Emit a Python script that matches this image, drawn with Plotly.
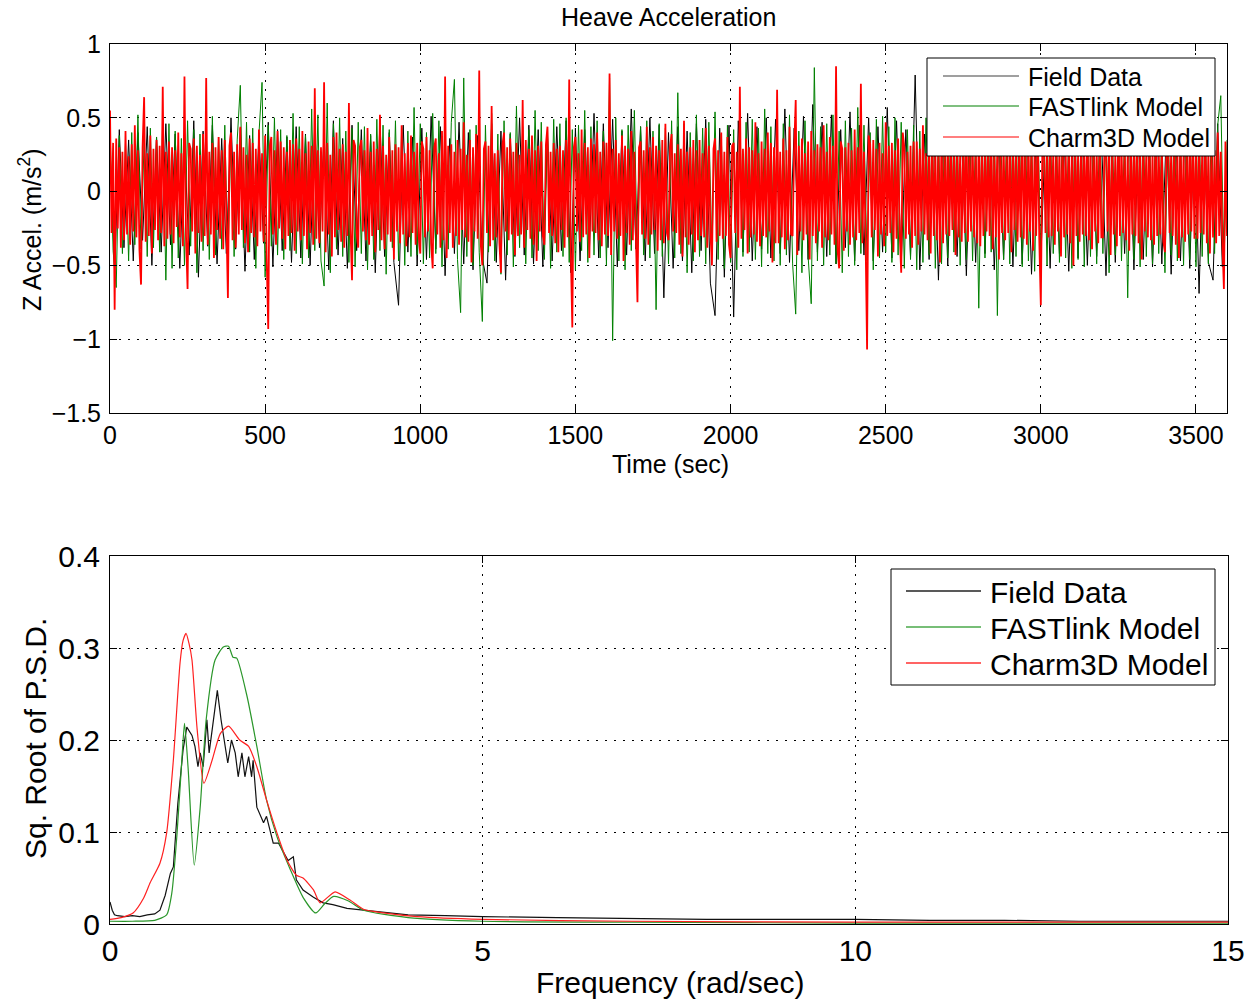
import plotly.graph_objects as go

# ---------------- Top panel: heave acceleration time series ----------------
red_dt = 5     # s between Charm3D samples
green_dt = 10  # s between FASTlink samples
black_dt = 15  # s between field samples

charm3d_accel = [
    0.55, -0.28, 0.33, -0.80, 0.36, -0.25, 0.30, -0.38, 0.27, -0.33, 0.41, -0.29, 0.24, -0.36, 0.32, -0.27, 0.45, -0.31, 0.28, -0.40,
    -0.63, 0.30, 0.64, -0.34, 0.26, -0.30, 0.38, -0.42, 0.29, -0.26, 0.35, -0.33, 0.31, -0.28, 0.71, -0.37, 0.27, -0.32, 0.34, -0.29,
    0.30, -0.35, 0.28, -0.24, 0.40, -0.31, 0.26, -0.37, 0.78, -0.30, -0.66, 0.33, 0.29, -0.27, 0.36, -0.42, 0.31, -0.28, 0.25, -0.34,
    0.39, -0.30, 0.77, -0.36, 0.27, -0.29, 0.33, -0.45, 0.30, -0.26, 0.37, -0.32, 0.28, -0.39, 0.35, -0.27, -0.72, 0.31, 0.40, -0.33,
    0.27, -0.38, 0.32, -0.29, 0.44, -0.26, 0.30, -0.35, 0.25, -0.41, 0.36, -0.28, 0.33, -0.31, 0.29, -0.37, 0.42, -0.27, 0.26, -0.34,
    0.38, -0.45, -0.93, 0.31, 0.37, -0.29, 0.28, -0.36, 0.41, -0.25, 0.34, -0.32, 0.30, -0.39, 0.27, -0.30, 0.35, -0.28, 0.32, -0.40,
    0.36, -0.27, 0.29, -0.33, 0.41, -0.30, 0.26, -0.39, 0.34, -0.28, 0.31, -0.36, 0.70, -0.32, 0.28, -0.35, 0.30, -0.27, 0.74, -0.41,
    0.33, -0.29, 0.25, -0.44, 0.37, -0.31, 0.40, -0.26, 0.29, -0.34, 0.32, -0.38, 0.27, -0.30, 0.60, -0.25, -0.60, 0.35, 0.31, -0.28,
    -0.38, 0.30, 0.35, -0.27, 0.28, -0.33, 0.43, -0.36, 0.27, -0.30, 0.34, -0.41, 0.29, -0.26, 0.52, -0.33, 0.31, -0.39, 0.25, -0.29,
    0.37, -0.34, 0.28, -0.46, 0.32, -0.27, 0.30, -0.35, 0.45, -0.29, 0.26, -0.37, 0.33, -0.31, 0.38, -0.28, 0.27, -0.36, 0.33, -0.30,
    -0.42, 0.34, 0.29, -0.31, 0.37, -0.27, 0.28, -0.35, -0.52, 0.30, 0.36, -0.29, 0.26, -0.38, 0.41, -0.33, 0.78, -0.45, 0.31, -0.28,
    0.32, -0.38, 0.27, -0.30, 0.35, -0.36, 0.29, -0.26, 0.47, -0.31, 0.25, -0.34, 0.35, -0.48, 0.30, -0.27, 0.39, -0.32, 0.82, -0.36,
    -0.50, 0.29, 0.34, -0.28, 0.31, -0.37, 0.58, -0.33, 0.26, -0.31, 0.28, -0.35, -0.55, 0.32, 0.40, -0.27, 0.30, -0.33, 0.36, -0.29,
    0.27, -0.43, 0.33, -0.30, 0.25, -0.29, 0.62, -0.38, 0.35, -0.26, 0.29, -0.32, 0.38, -0.36, 0.28, -0.47, 0.31, -0.27, 0.34, -0.30,
    -0.36, 0.32, 0.44, -0.28, 0.27, -0.30, 0.33, -0.35, 0.29, -0.41, 0.31, -0.26, 0.28, -0.38, 0.35, -0.31, 0.76, -0.40, -0.92, 0.30,
    0.37, -0.27, 0.26, -0.34, 0.42, -0.31, 0.33, -0.29, 0.30, -0.45, 0.36, -0.27, 0.32, -0.28, 0.40, -0.33, 0.27, -0.37, 0.34, -0.29,
    0.33, -0.30, 0.80, -0.43, 0.29, -0.27, 0.35, -0.32, 0.26, -0.30, 0.38, -0.47, 0.31, -0.28, 0.29, -0.36, 0.41, -0.33, 0.27, -0.31,
    -0.75, 0.30, 0.34, -0.29, 0.28, -0.32, 0.44, -0.36, 0.30, -0.29, 0.37, -0.26, 0.31, -0.40, 0.28, -0.33, 0.35, -0.35, 0.46, -0.28,
    -0.33, 0.30, 0.39, -0.27, 0.26, -0.28, 0.32, -0.36, 0.29, -0.44, 0.48, -0.31, 0.27, -0.36, 0.30, -0.29, 0.35, -0.41, 0.28, -0.33,
    0.35, -0.30, 0.26, -0.31, 0.43, -0.38, 0.31, -0.27, -0.50, 0.29, 0.36, -0.34, 0.28, -0.30, 0.40, -0.32, 0.27, -0.30, 0.37, -0.36,
    -0.45, 0.31, 0.33, -0.28, 0.27, -0.38, 0.71, -0.32, 0.29, -0.26, 0.36, -0.42, 0.30, -0.31, 0.28, -0.29, 0.47, -0.34, 0.26, -0.37,
    0.34, -0.30, 0.29, -0.31, 0.40, -0.27, 0.33, -0.48, 0.30, -0.35, 0.69, -0.35, 0.27, -0.31, 0.36, -0.39, 0.28, -0.33, 0.44, -0.29,
    -0.30, 0.28, 0.62, -0.43, 0.31, -0.27, 0.36, -0.33, 0.26, -0.29, 0.34, -0.46, 0.41, -0.30, 0.28, -0.35, 0.32, -0.27, 0.30, -0.38,
    0.45, -0.31, 0.27, -0.33, 0.37, -0.29, 0.31, -0.36, 0.85, -0.40, -0.52, 0.34, 0.29, -0.40, 0.30, -0.27, 0.33, -0.36, 0.28, -0.31,
    0.42, -0.33, 0.30, -0.28, 0.73, -0.35, 0.27, -0.30, -1.07, 0.38, 0.32, -0.31, 0.35, -0.26, 0.29, -0.44, 0.33, -0.29, 0.26, -0.37,
    0.47, -0.30, 0.31, -0.28, 0.33, -0.41, 0.28, -0.32, 0.36, -0.27, -0.55, 0.40, 0.30, -0.32, 0.27, -0.29, 0.31, -0.38, 0.34, -0.30,
    0.34, -0.36, 0.29, -0.27, 0.45, -0.29, 0.26, -0.33, 0.32, -0.42, 0.38, -0.30, 0.28, -0.33, 0.30, -0.48, 0.41, -0.35, 0.27, -0.29,
    0.37, -0.30, 0.31, -0.26, 0.29, -0.43, 0.35, -0.31, 0.27, -0.34, 0.33, -0.28, 0.50, -0.34, 0.30, -0.27, 0.36, -0.31, 0.28, -0.35,
    0.40, -0.37, 0.28, -0.30, 0.33, -0.27, 0.31, -0.30, 0.44, -0.39, 0.26, -0.31, 0.35, -0.46, 0.29, -0.28, 0.35, -0.33, 0.27, -0.28,
    0.38, -0.41, 0.30, -0.26, 0.32, -0.34, 0.28, -0.31, 0.47, -0.32, 0.29, -0.36, 0.36, -0.27, 0.31, -0.40, 0.29, -0.30, 0.45, -0.33,
    -0.77, 0.32, 0.35, -0.28, 0.26, -0.31, 0.42, -0.30, 0.29, -0.36, 0.33, -0.27, 0.30, -0.44, 0.38, -0.31, 0.27, -0.29, 0.33, -0.35,
    0.28, -0.50, 0.41, -0.30, 0.26, -0.34, 0.37, -0.29, 0.31, -0.30, 0.46, -0.33, 0.28, -0.39, 0.32, -0.27, 0.30, -0.35, 0.40, -0.31,
    -0.31, 0.29, 0.36, -0.27, 0.31, -0.43, 0.30, -0.29, 0.26, -0.37, 0.48, -0.30, 0.33, -0.28, 0.29, -0.33, 0.27, -0.40, 0.35, -0.29,
    0.31, -0.30, 0.42, -0.35, 0.28, -0.46, 0.34, -0.27, 0.30, -0.31, 0.38, -0.33, 0.27, -0.36, 0.44, -0.30, 0.29, -0.29, 0.32, -0.34,
    -0.41, 0.30, 0.37, -0.28, 0.27, -0.30, 0.33, -0.36, 0.29, -0.45, 0.39, -0.31, 0.26, -0.34, 0.31, -0.29, 0.38, -0.27, 0.43, -0.32,
    0.30, -0.32, 0.36, -0.28, 0.27, -0.29, 0.47, -0.35, 0.29, -0.42, 0.30, -0.31, 0.28, -0.35, 0.40, -0.30, 0.27, -0.33, -0.66, 0.34,
    -0.30,
]

fastlink_accel = [
    0.45, -0.40, -0.65, 0.38, -0.42, 0.33, -0.47, 0.40, -0.36, 0.52, -0.39, 0.35, -0.44, 0.43, -0.38, 0.37, -0.41, 0.50, -0.60, 0.46,
    -0.52, 0.41, -0.45, 0.36, -0.50, 0.48, -0.37, 0.42, -0.55, 0.39, -0.40, 0.44, -0.46, 0.51, -0.43, 0.37, -0.39, 0.45, -0.48, 0.40,
    -0.44, 0.35, 0.72, -0.38, 0.47, -0.41, 0.43, -0.52, 0.39, 0.74, -0.58, 0.45, -0.37, 0.50, -0.43, 0.42, -0.46, 0.38, -0.40, 0.53,
    -0.42, 0.44, -0.49, 0.38, -0.45, 0.56, -0.40, 0.52, -0.47, -0.64, 0.60, -0.55, 0.46, -0.39, 0.50, -0.44, 0.41, -0.48, 0.43, -0.51,
    0.47, -0.42, 0.44, -0.53, 0.39, -0.46, 0.49, -0.40, 0.45, -0.56, 0.42, -0.38, 0.48, -0.47, 0.43, -0.50, 0.41, -0.44, 0.57, -0.43,
    0.46, -0.49, 0.40, -0.45, 0.53, -0.42, 0.48, -0.51, 0.44, -0.39, 0.47, 0.76, -0.46, -0.82, 0.77, -0.44, 0.42, -0.50, 0.45, -0.41,
    -0.88, 0.45, -0.41, 0.53, -0.47, 0.39, -0.56, 0.48, -0.43, 0.40, -0.51, 0.58, -0.38, 0.44, -0.49, 0.42, -0.45, 0.55, -0.40, 0.47,
    -0.46, 0.43, -0.52, 0.49, -0.41, 0.46, -0.44, 0.50, -0.48, 0.42, -0.53, 0.45, -0.40, 0.55, -0.48, 0.44, -0.43, 0.48, -0.45, 0.41,
    -0.50, 0.77, -1.01, 0.50, -0.47, 0.42, -0.53, 0.45, -0.40, 0.55, -0.48, 0.44, -0.43, 0.48, -0.45, 0.41, -0.80, 0.46, -0.44, 0.43,
    -0.49, 0.48, -0.45, 0.67, -0.42, 0.46, -0.55, 0.40, -0.47, 0.52, -0.44, 0.43, -0.49, 0.47, -0.41, 0.54, -0.46, 0.39, -0.52, 0.45,
    -0.48, 0.42, -0.53, 0.50, -0.44, 0.47, -0.41, 0.49, -0.46, 0.43, -0.51, 0.56, -0.42, 0.44, -0.47, 0.41, -0.50, 0.46, -0.43, 0.52,
    -0.49, -0.83, 0.41, -0.55, 0.48, -0.44, -0.76, 0.84, -0.47, 0.44, -0.50, 0.46, -0.43, 0.52, -0.49, 0.41, -0.55, 0.48, -0.44, 0.43,
    -0.50, 0.57, -0.42, 0.45, -0.47, 0.40, -0.53, 0.49, -0.45, 0.51, -0.41, 0.44, -0.48, 0.50, -0.43, 0.47, -0.52, 0.42, -0.46, 0.45,
    -0.53, 0.41, -0.48, 0.50, -0.43, 0.47, -0.52, 0.42, -0.49, 0.46, -0.45, 0.53, -0.41, 0.48, -0.50, 0.44, -0.46, 0.51, -0.47, 0.43,
    -0.79, 0.46, -0.45, 0.53, -0.41, 0.48, -0.84, 0.51, -0.46, 0.43, -0.49, 0.47, -0.44, 0.52, -0.51, 0.45, -0.47, 0.41, -0.54, 0.49,
    -0.43, 0.46, -0.50, 0.55, -0.42, 0.44, -0.48, 0.50, -0.45, 0.42, -0.52, 0.48, -0.46, 0.43, -0.51, 0.50, -0.44, 0.47, -0.49, 0.53,
    -0.42, 0.45, -0.55, 0.46, -0.43, 0.51, -0.47, 0.44, -0.72, 0.48, -0.46, 0.43, -0.51, 0.50, -0.44, 0.47, -0.49, 0.53, -0.42, 0.45,
    -0.55, 0.46, -0.43, 0.51, -0.47, 0.44, -0.50, 0.48, -0.46, 0.43, -0.51, 0.50, -0.44, 0.47, -0.49, 0.53, -0.42, 0.45, 0.65, -0.52,
    0.35,
]

field_accel = [
    0.30, -0.55, 0.42, -0.38, 0.35, -0.47, 0.40, -0.33, 0.44, -0.50, 0.37, -0.41, 0.46, -0.36, 0.39, -0.52, 0.34, -0.43, 0.48, -0.58,
    0.41, -0.37, 0.45, -0.49, 0.36, -0.42, 0.50, -0.39, 0.43, -0.54, 0.38, -0.46, 0.40, -0.35, 0.47, -0.51, 0.42, -0.40, 0.37, -0.48,
    0.44, -0.45, 0.39, -0.50, 0.46, -0.38, 0.41, -0.53, 0.48, -0.43, 0.36, -0.52, 0.45, -0.40, 0.42, -0.47, 0.38, -0.55, 0.49, -0.44,
    0.40, -0.48, -0.77, 0.45, -0.41, 0.37, -0.50, 0.43, -0.46, 0.51, -0.39, 0.44, -0.57, 0.36, -0.42, 0.47, -0.49, 0.40, -0.53, 0.38,
    -0.45, -0.62, 0.46, -0.48, 0.41, -0.60, 0.39, -0.44, 0.50, -0.43, 0.45, -0.49, 0.42, -0.51, 0.38, -0.47, 0.44, -0.40, 0.48, -0.55,
    0.43, -0.47, 0.42, -0.40, 0.53, -0.45, 0.46, -0.38, 0.49, -0.51, 0.41, -0.43, 0.56, -0.39, 0.44, -0.47, 0.50, -0.42, 0.45, -0.72,
    0.40, -0.52, 0.44, -0.47, 0.41, -0.55, 0.46, -0.40, 0.49, -0.62, -0.84, 0.43, -0.58, 0.45, -0.85, 0.48, -0.41, 0.53, -0.47, 0.44,
    -0.39, 0.50, -0.45, 0.49, -0.42, 0.56, -0.48, 0.43, -0.40, 0.51, -0.46, 0.59, -0.41, 0.47, -0.44, 0.52, -0.49, 0.42, -0.38, 0.54,
    -0.47, 0.45, -0.43, 0.50, -0.47, 0.44, -0.41, 0.57, -0.45, 0.48, -0.50, 0.42, -0.44, 0.79, -0.53, 0.39, -0.46, 0.48, -0.60, 0.43,
    -0.50, 0.47, -0.44, 0.41, -0.57, 0.45, -0.48, 0.50, -0.42, 0.44, -0.53, 0.39, -0.46, 0.48, -0.51, 0.42, -0.49, 0.46, -0.56, 0.40,
    -0.47, 0.44, -0.52, 0.49, -0.42, 0.38, -0.54, 0.47, -0.45, 0.43, -0.50, 0.47, -0.44, 0.41, -0.57, 0.45, -0.48, 0.50, -0.42, 0.44,
    -0.53, 0.39, -0.46, 0.48, -0.51, 0.42, -0.49, 0.46, -0.56, 0.40, -0.47, 0.44, -0.52, 0.49, -0.69, 0.45, -0.48, -0.60, 0.46, -0.51,
    0.20,
]

time_ticks = [0, 500, 1000, 1500, 2000, 2500, 3000, 3500]
accel_ticks = [-1.5, -1, -0.5, 0, 0.5, 1]

# ---------------- Bottom panel: sqrt of PSD ----------------
field_freq = [0, 0.03, 0.06, 0.1, 0.2, 0.3, 0.4, 0.5, 0.6, 0.67, 0.74, 0.81, 0.85, 0.91, 0.98, 1.03, 1.10, 1.14,
              1.18, 1.21, 1.25, 1.30, 1.33, 1.38, 1.44, 1.49, 1.54, 1.58, 1.63, 1.68, 1.72, 1.77, 1.81, 1.86, 1.90,
              1.92, 1.97, 2.01, 2.06, 2.10, 2.15, 2.19, 2.26, 2.33, 2.39, 2.46, 2.50, 2.59, 2.73, 2.86, 2.99, 3.18,
              3.4, 3.7, 4.0, 4.5, 5.0, 6.0, 7.0, 8.0, 9.0, 10.0, 11.0, 12.0, 13.0, 14.0, 15.0]
field_psd = [0.024, 0.015, 0.010, 0.009, 0.008, 0.009, 0.008, 0.010, 0.011, 0.015, 0.031, 0.055, 0.062, 0.131, 0.189,
             0.214, 0.205, 0.193, 0.171, 0.186, 0.171, 0.222, 0.186, 0.218, 0.254, 0.222, 0.193, 0.175, 0.200, 0.186,
             0.160, 0.186, 0.160, 0.182, 0.160, 0.178, 0.127, 0.120, 0.110, 0.117, 0.102, 0.088, 0.088, 0.077, 0.069,
             0.073, 0.048, 0.037, 0.029, 0.023, 0.021, 0.017, 0.015, 0.012, 0.010, 0.009, 0.008, 0.007, 0.006, 0.005,
             0.005, 0.005, 0.004, 0.004, 0.003, 0.003, 0.003]

fastlink_freq = [0, 0.3, 0.6, 0.76, 0.83, 0.90, 0.97, 1.00, 1.05, 1.13, 1.21, 1.29, 1.41, 1.52, 1.59, 1.65, 1.70,
                 1.84, 1.97, 2.10, 2.24, 2.42, 2.59, 2.76, 2.88, 3.0, 3.2, 3.4, 4.0, 5.0, 7.0, 10.0, 15.0]
fastlink_psd = [0.003, 0.003, 0.004, 0.010, 0.034, 0.099, 0.186, 0.218, 0.167, 0.064, 0.127, 0.222, 0.287, 0.301,
                0.302, 0.290, 0.289, 0.247, 0.193, 0.135, 0.095, 0.059, 0.029, 0.012, 0.022, 0.030, 0.025, 0.015,
                0.007, 0.003, 0.002, 0.001, 0.001]

charm3d_freq = [0, 0.15, 0.31, 0.45, 0.54, 0.67, 0.76, 0.85, 0.94, 0.98, 1.02, 1.06, 1.10, 1.17, 1.26, 1.37, 1.48,
                1.59, 1.74, 1.86, 1.97, 2.10, 2.24, 2.37, 2.50, 2.59, 2.73, 2.82, 3.02, 3.22, 3.40, 3.67, 4.12, 5.0,
                7.0, 10.0, 12.5, 15.0]
charm3d_psd = [0.005, 0.007, 0.012, 0.028, 0.045, 0.066, 0.099, 0.178, 0.284, 0.308, 0.316, 0.305, 0.287, 0.211,
               0.153, 0.178, 0.207, 0.215, 0.200, 0.193, 0.171, 0.135, 0.099, 0.070, 0.053, 0.050, 0.037, 0.023,
               0.035, 0.026, 0.016, 0.012, 0.008, 0.005, 0.003, 0.002, 0.002, 0.002]

freq_ticks = [0, 5, 10, 15]
psd_ticks = [0, 0.1, 0.2, 0.3, 0.4]
psd_tick_labels = ["0", "0.1", "0.2", "0.3", "0.4"]

series_names = ["Field Data", "FASTlink Model", "Charm3D Model"]
top_colors = ["#000000", "#008000", "#ff0000"]
bottom_colors = ["#111111", "#2a962a", "#ff2020"]

W, H = 1257, 1005
FONT = "Liberation Sans, Arial, Helvetica, sans-serif"


def px(x):
    return x / W


def py(y):
    return 1 - y / H


fig = go.Figure()

top_series = [
    (field_accel, black_dt, 1.0),
    (fastlink_accel, green_dt, 1.0),
    (charm3d_accel, red_dt, 1.8),
]
for (vals, dt, lw), name, col in zip(top_series, series_names, top_colors):
    fig.add_trace(go.Scatter(
        x=[i * dt for i in range(len(vals))], y=vals, mode="lines", name=name,
        line=dict(color=col, width=lw), xaxis="x", yaxis="y", showlegend=False))

bottom_series = [
    (field_freq, field_psd, "linear"),
    (fastlink_freq, fastlink_psd, "spline"),
    (charm3d_freq, charm3d_psd, "spline"),
]
for (fx, fy, shape), name, col in zip(bottom_series, series_names, bottom_colors):
    fig.add_trace(go.Scatter(
        x=fx, y=fy, mode="lines", name=name,
        line=dict(color=col, width=1.2, shape=shape, smoothing=0.6 if shape == "spline" else None),
        xaxis="x2", yaxis="y2", showlegend=False))


def axis_style(size, standoff=0):
    return dict(showline=True, linecolor="black", linewidth=1, mirror="allticks",
                ticks="inside", ticklen=7, tickcolor="black", tickwidth=1,
                showgrid=True, gridcolor="black", gridwidth=1, griddash="2px,7px",
                zeroline=False, automargin=False, ticklabelstandoff=standoff,
                tickfont=dict(family=FONT, size=size, color="black"))


top_fs = 25
bot_fs = 30

shapes = []
annotations = []


def add_legend(box, line_x, rows, text_x, colors, fs, lw):
    x0, x1, y0, y1 = box
    shapes.append(dict(type="rect", xref="paper", yref="paper",
                       x0=px(x0), x1=px(x1), y0=py(y1), y1=py(y0),
                       line=dict(color="black", width=1), fillcolor="white", layer="above"))
    for name, col, ry in zip(series_names, colors, rows):
        shapes.append(dict(type="line", xref="paper", yref="paper",
                           x0=px(line_x[0]), x1=px(line_x[1]), y0=py(ry), y1=py(ry),
                           line=dict(color=col, width=lw), layer="above"))
        annotations.append(dict(text=name, x=px(text_x), y=py(ry + 1), xref="paper", yref="paper",
                                xanchor="left", yanchor="middle", showarrow=False,
                                font=dict(family=FONT, size=fs, color="black")))


add_legend((927, 1215, 58, 156), (943, 1019), [76, 106, 137], 1026,
           ["#404040", "#008000", "#ff0000"], top_fs, 1.2)
add_legend((891, 1215, 569, 685), (906, 981), [591, 627, 663], 988,
           ["#222222", "#4aa84a", "#ff3030"], bot_fs, 1.5)


def label(text, x, y, fs, angle=0):
    annotations.append(dict(text=text, x=px(x), y=py(y), xref="paper", yref="paper",
                            xanchor="center", yanchor="middle", textangle=angle, showarrow=False,
                            font=dict(family=FONT, size=fs, color="black")))


label("Heave Acceleration", 669, 17, top_fs)
label("Time (sec)", 670, 464, top_fs)
label("Z Accel. (m/s<sup>2</sup>)", 30, 230, top_fs, -90)
label("Frequency (rad/sec)", 670, 982, bot_fs)
label("Sq. Root of P.S.D.", 35, 739, bot_fs, -90)

fig.update_layout(
    width=W, height=H,
    margin=dict(l=0, r=0, t=0, b=0, autoexpand=False),
    paper_bgcolor="white", plot_bgcolor="white",
    font=dict(family=FONT, color="black"),
    showlegend=False,
    xaxis=dict(domain=[px(110), px(1227)], range=[0, 3600], tickvals=time_ticks,
               anchor="y", **axis_style(top_fs)),
    yaxis=dict(domain=[py(413), py(44)], range=[-1.5, 1], tickvals=accel_ticks,
               anchor="x", **axis_style(top_fs, 3)),
    xaxis2=dict(domain=[px(110), px(1228)], range=[0, 15], tickvals=freq_ticks,
                anchor="y2", **axis_style(bot_fs)),
    yaxis2=dict(domain=[py(924), py(556)], range=[0, 0.4], tickvals=psd_ticks,
                ticktext=psd_tick_labels, anchor="x2", **axis_style(bot_fs, 3)),
    shapes=shapes,
    annotations=annotations,
)

# Remove the page's default 8 px body margin so the figure fills the window exactly.
fig.write_html("out.html",
               config={"displayModeBar": False},
               post_script="document.body.style.margin='0px';document.body.style.overflow='hidden';")
